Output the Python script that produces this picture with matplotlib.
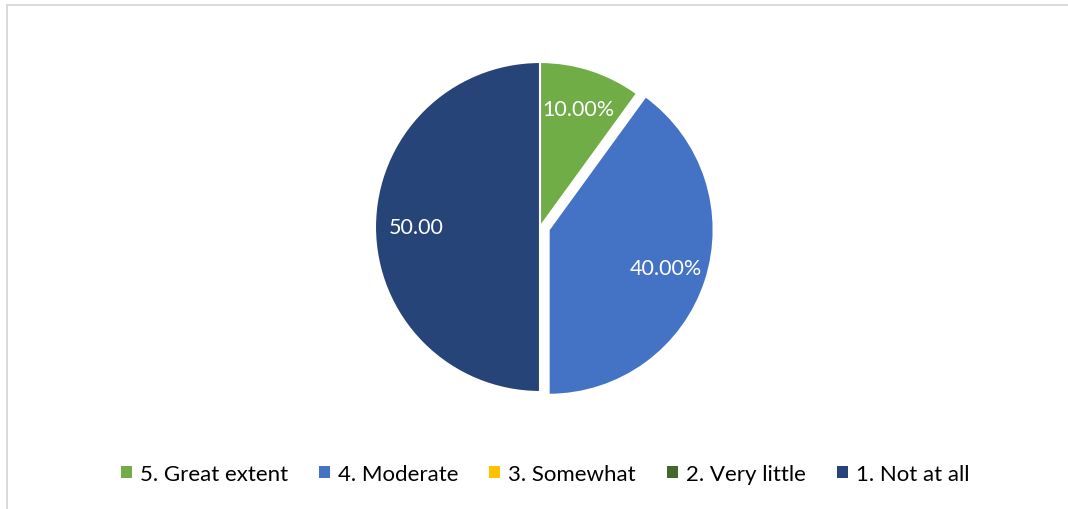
import matplotlib
matplotlib.use("Agg")
import matplotlib.pyplot as plt
from matplotlib.lines import Line2D

categories = ["5. Great extent", "4. Moderate", "3. Somewhat", "2. Very little", "1. Not at all"]
values = [10, 40, 0, 0, 50]
value_labels = ["10.00%", "40.00%", "", "", "50.00"]
colors = ["#70AD47", "#4472C4", "#FFC000", "#43682B", "#264478"]
explode = [0, 0.055, 0, 0, 0]

plt.rcParams['font.family'] = ['Lato', 'DejaVu Sans']

W, H = 1068, 510
fig = plt.figure(figsize=(W / 100, H / 100), dpi=100)

# chart frame (only top/left edges visible)
fig.add_artist(Line2D([6.5 / W, 6.5 / W], [0, (H - 5.5) / H], transform=fig.transFigure,
                      color="#d9d9d9", lw=1.4))
fig.add_artist(Line2D([6.5 / W, 1], [(H - 5.5) / H, (H - 5.5) / H], transform=fig.transFigure,
                      color="#d9d9d9", lw=1.4))

cx, cy, R = 540, 228, 165
half = 1.2 * R
ax = fig.add_axes([(cx - half) / W, (H - cy - half) / H, 2 * half / W, 2 * half / H])

label_iter = iter(value_labels)
wedges, texts, autotexts = ax.pie(
    values, colors=colors, explode=explode, startangle=90, counterclock=False,
    autopct=lambda p: next(label_iter), pctdistance=0.75,
    wedgeprops=dict(edgecolor="white", linewidth=1.5),
    textprops=dict(color="white", fontsize=15.5), frame=True)
ax.set_xlim(-1.2, 1.2)
ax.set_ylim(-1.2, 1.2)
ax.set_aspect("equal")
ax.axis("off")

handles = [plt.Rectangle((0, 0), 1, 1, facecolor=c, edgecolor="none") for c in colors]
fig.legend(handles, categories, loc="center", bbox_to_anchor=(545 / W, (H - 475) / H),
           ncol=5, frameon=False, fontsize=16, handlelength=0.5, handleheight=0.5,
           handletextpad=0.35, columnspacing=1.4)

fig.savefig("out.png", dpi=100)
